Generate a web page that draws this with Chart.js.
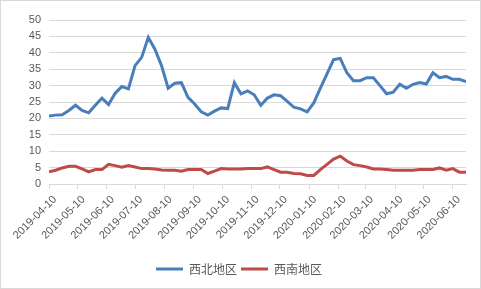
<!DOCTYPE html>
<html>
<head>
<meta charset="utf-8">
<script src="https://cdn.jsdelivr.net/npm/chart.js@4/dist/chart.umd.min.js"></script>
<style>
  body { margin: 0; background: #fff; }
  #wrap { width: 481px; height: 289px; }
</style>
</head>
<body>
<div id="wrap"><canvas id="priceChart" width="481" height="289"></canvas></div>
<script>
// weekly observations, first one on 2019-04-10
const startDate = "2019-04-10";
const weekCount = 64;

const northwest = [
  20.7, 21.0, 21.1, 22.4, 24.0, 22.4, 21.7, 24.0, 26.2, 24.2,
  27.7, 29.7, 29.0, 36.1, 38.6, 44.7, 41.1, 36.1, 29.2, 30.7,
  30.9, 26.4, 24.4, 22.0, 21.0, 22.2, 23.2, 23.0, 30.9, 27.5,
  28.4, 27.2, 24.0, 26.2, 27.2, 26.9, 25.2, 23.4, 22.9, 22.0,
  24.7, 29.2, 33.6, 37.9, 38.3, 33.9, 31.5, 31.5, 32.4, 32.4,
  30.0, 27.5, 28.0, 30.4, 29.2, 30.4, 30.9, 30.5, 33.9, 32.4,
  32.8, 31.9, 31.9, 31.2
];

const southwest = [
  3.7, 4.2, 4.9, 5.4, 5.4, 4.6, 3.7, 4.4, 4.4, 6.0,
  5.6, 5.1, 5.6, 5.2, 4.7, 4.7, 4.6, 4.3, 4.2, 4.2,
  3.9, 4.4, 4.4, 4.4, 3.2, 3.9, 4.7, 4.6, 4.6, 4.6,
  4.7, 4.7, 4.7, 5.2, 4.4, 3.6, 3.6, 3.2, 3.1, 2.6,
  2.6, 4.4, 6.0, 7.6, 8.5, 7.0, 5.9, 5.6, 5.2, 4.6,
  4.6, 4.4, 4.2, 4.2, 4.2, 4.2, 4.4, 4.4, 4.4, 4.9,
  4.2, 4.7, 3.6, 3.6
];

const tickDates = [
  "2019-04-10", "2019-05-10", "2019-06-10", "2019-07-10", "2019-08-10",
  "2019-09-10", "2019-10-10", "2019-11-10", "2019-12-10", "2020-01-10",
  "2020-02-10", "2020-03-10", "2020-04-10", "2020-05-10", "2020-06-10"
];

const seriesNames = ["西北地区", "西南地区"];

const DAY = 86400000;
const dayOf = s => (Date.parse(s + "T00:00:00Z") - Date.parse(startDate + "T00:00:00Z")) / DAY;

const weekDays = [];
for (let i = 0; i < weekCount; i++) weekDays.push(i * 7);

const tickDays = tickDates.map(dayOf);
const labelByDay = {};
tickDates.forEach(d => { labelByDay[dayOf(d)] = d; });

const toPoints = arr => arr.map((v, i) => ({ x: weekDays[i], y: v }));

const frame = {
  id: "frame",
  afterLayout(chart) {
    // nudge legend a bit right, like the original
    chart.legend.left += 6;
    chart.legend.right += 6;
  },
  afterDraw(chart) {
    const c = chart.ctx;
    c.save();
    c.strokeStyle = "#d9d9d9";
    c.lineWidth = 1;
    c.strokeRect(0.5, 0.5, chart.width - 1, chart.height - 1);
    c.restore();
  }
};

const ctx = document.getElementById("priceChart").getContext("2d");
new Chart(ctx, {
  type: "line",
  data: {
    datasets: [{
      label: seriesNames[0],
      data: toPoints(northwest),
      borderColor: "#4a7ebb",
      backgroundColor: "#4a7ebb",
      borderWidth: 3,
      pointRadius: 0,
      tension: 0
    }, {
      label: seriesNames[1],
      data: toPoints(southwest),
      borderColor: "#be4b48",
      backgroundColor: "#be4b48",
      borderWidth: 3,
      pointRadius: 0,
      tension: 0
    }]
  },
  options: {
    responsive: false,
    animation: false,
    layout: { padding: { left: 0, right: 15, top: 20, bottom: 4 } },
    plugins: {
      legend: {
        position: "bottom",
        labels: {
          boxWidth: 27,
          boxHeight: 3,
          padding: 4,
          color: "#595959",
          font: { family: "'Noto Sans CJK SC'", size: 12 },
          generateLabels: chart =>
            Chart.defaults.plugins.legend.labels.generateLabels(chart).map(l => ({ ...l, lineWidth: 0 }))
        }
      },
      tooltip: { enabled: false }
    },
    scales: {
      x: {
        type: "linear",
        min: 0,
        max: weekDays[weekDays.length - 1],
        afterBuildTicks: scale => { scale.ticks = tickDays.map(v => ({ value: v })); },
        afterFit: scale => { scale.height = 75; },
        grid: { drawOnChartArea: false, color: "#d9d9d9", tickLength: 5 },
        border: { color: "#d9d9d9" },
        ticks: {
          autoSkip: false,
          maxRotation: 45,
          minRotation: 45,
          padding: 4,
          labelOffset: 6,
          color: "#595959",
          font: { family: "'Liberation Sans'", size: 11 },
          callback: v => labelByDay[v] || ""
        }
      },
      y: {
        min: 0,
        max: 50,
        afterFit: scale => { scale.width = 49; },
        grid: { color: "#d9d9d9", drawTicks: false },
        border: { display: false },
        ticks: {
          stepSize: 5,
          padding: 8,
          color: "#595959",
          font: { family: "'Liberation Sans'", size: 11 }
        }
      }
    }
  },
  plugins: [frame]
});
</script>
</body>
</html>
